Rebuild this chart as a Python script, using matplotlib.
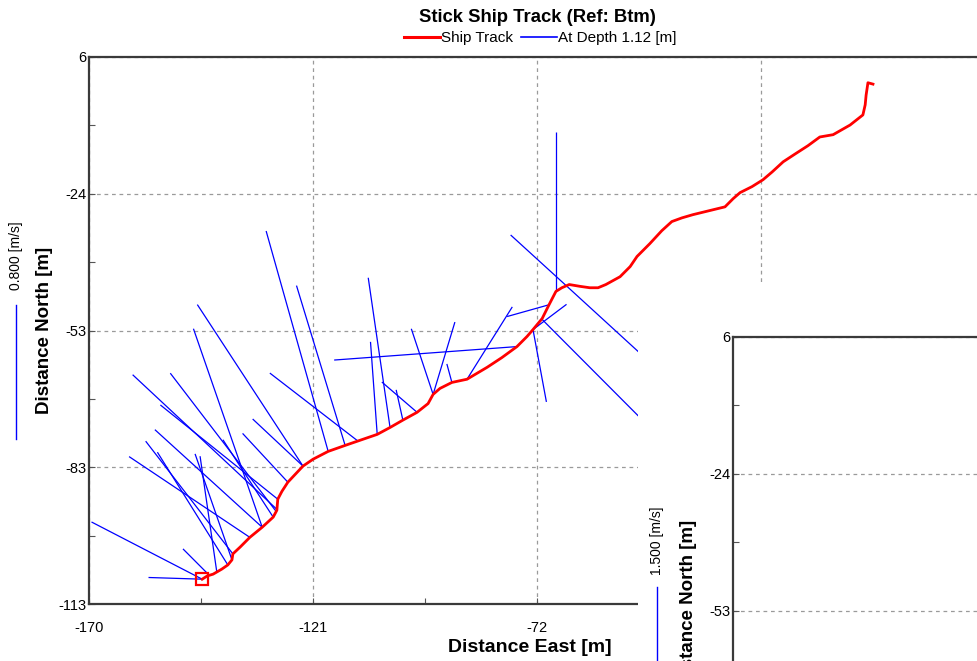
import matplotlib
matplotlib.use("Agg")
import matplotlib.pyplot as plt
import matplotlib.transforms as mtrans
from matplotlib.collections import LineCollection
from matplotlib.lines import Line2D
from matplotlib.patches import Rectangle
import numpy as np

# ship track, metres east/north of the reference point
track_east = [-145.3, -144.2, -142.9, -141.0, -139.7, -138.8, -138.6, -137.0, -134.9, -132.2,
              -129.8, -129.0, -128.8, -127.9, -126.6, -125.0, -123.3, -121.1, -117.8, -114.1,
              -110.9, -107.1, -104.3, -101.5, -98.4, -96.0, -94.9, -93.4, -90.8, -87.5,
              -85.3, -83.1, -79.9, -76.6, -74.4, -73.1, -71.1, -69.6, -68.1, -66.8,
              -65.2, -62.8, -60.7, -58.9, -57.2, -54.1, -51.9, -50.4, -47.6, -45.0,
              -42.8, -40.6, -38.2, -34.5, -31.2, -29.4, -27.9, -25.3, -22.9, -20.9,
              -18.5, -15.9, -13.1, -10.5, -7.6, -3.9, -1.1, -0.6, -0.4, 0.0, 1.1]
track_north = [-107.6, -106.9, -106.5, -105.4, -104.5, -103.4, -102.1, -100.6, -98.5, -96.3,
               -94.1, -92.6, -90.2, -88.5, -86.5, -84.8, -83.0, -81.5, -79.8, -78.5,
               -77.4, -76.1, -74.6, -73.0, -71.3, -69.4, -67.4, -66.1, -64.8, -64.1,
               -62.8, -61.5, -59.4, -57.0, -54.8, -53.3, -50.9, -47.9, -45.0, -44.2,
               -43.5, -43.9, -44.2, -44.2, -43.5, -41.8, -39.6, -37.4, -34.6, -31.8,
               -29.8, -29.0, -28.3, -27.4, -26.6, -24.8, -23.5, -22.2, -20.7, -19.0,
               -16.8, -15.1, -13.3, -11.4, -10.9, -8.8, -6.6, -4.4, -2.3, 0.4, 0.1]

# ensemble positions and current at 1.12 m (m/s)
stick_east = [-145.3, -145.3, -144.0, -138.6, -134.9, -139.7, -138.8, -142.1, -129.8, -129.0,
              -129.2, -132.2, -123.3, -117.8, -114.1, -111.5, -76.6, -104.3, -107.1, -98.4,
              -101.5, -94.9, -94.9, -90.8, -87.5, -69.6, -73.1, -73.1, -68.1, -65.9,
              -65.9, -71.1, -128.8, -132.2, -123.3, -126.6]
stick_north = [-107.6, -107.6, -106.5, -102.1, -98.5, -104.5, -103.4, -106.1, -94.1, -92.4,
               -92.8, -96.3, -83.0, -79.8, -78.5, -77.4, -57.0, -74.6, -76.1, -71.3,
               -73.0, -67.4, -67.4, -64.8, -64.1, -47.9, -53.3, -53.3, -45.0, -43.7,
               -43.7, -51.1, -90.2, -96.3, -83.0, -86.5]
vel_east = [-0.32, -0.66, -0.15, -0.52, -0.72, -0.42, -0.22, -0.10, -0.30, -0.86,
            -0.63, -0.41, -0.63, -0.37, -0.29, -0.52, -1.09, -0.13, -0.04, -0.21,
            -0.04, -0.13, 0.13, -0.03, 0.27, -0.25, 0.20, 0.08, 0.00, -0.33,
            0.57, 0.66, -0.70, -0.64, -0.30, -0.27]
vel_north = [0.01, 0.34, 0.15, 0.67, 0.48, 0.67, 0.63, 0.69, 0.46, 0.80,
             0.82, 1.18, 0.96, 1.31, 0.95, 0.40, -0.08, 0.89, 0.55, 0.18,
             0.18, 0.39, 0.43, 0.11, 0.43, -0.07, 0.15, -0.43, 0.95, 0.30,
             -0.52, -0.66, 0.56, 0.58, 0.28, 0.29]

xticks = [-170, -121.1, -72.2, -23.3]
xtick_labels = ["-170", "-121", "-72", "-23"]
yticks = [6, -23.75, -53.5, -83.25, -113]
ytick_labels = ["6", "-24", "-53", "-83", "-113"]

ref_speed = 0.800        # scale bar, main plot
ref_speed2 = 1.500       # scale bar, second plot
m_per_ms = 36.6          # stick length in metres for 1 m/s

plain = ["Liberation Sans", "DejaVu Sans"]
plt.rcParams["font.family"] = plain

W, H = 978, 661
fig = plt.figure(figsize=(W / 100, H / 100), dpi=100)
fig.patch.set_facecolor("white")

def px_box(left, top, width, height):
    return [left / W, (H - top - height) / H, width / W, height / H]

def style_axes(ax, width_px, label_y=0.5):
    for s in ax.spines.values():
        s.set_color("#3a3a3a")
        s.set_linewidth(1.6)
    ax.set_ylim(-113, 6)
    ax.set_yticks(yticks)
    ax.set_yticklabels(ytick_labels)
    ax.set_yticks([(a + b) / 2 for a, b in zip(yticks[:-1], yticks[1:])], minor=True)
    ax.tick_params(which="both", direction="in", length=4, width=0.8, color="#555555",
                   labelsize=10.5, pad=2)
    ax.yaxis.grid(True, which="major", ls=(0, (3, 3)), color="#9a9a9a", lw=0.9)
    ax.set_ylabel("Distance North [m]", fontsize=13.5, fontweight="bold")
    ax.yaxis.label.set_va("center")
    ax.yaxis.set_label_coords(-44.5 / width_px, label_y)

# ---- main stick plot
ax1 = fig.add_axes(px_box(89, 57, 896, 547))
ax1.set_zorder(0)
style_axes(ax1, 896)
ax1.set_xlim(-170, -170 + 896 / 4.582)
ax1.set_xticks(xticks)
ax1.set_xticklabels(xtick_labels)
ax1.set_xticks([(a + b) / 2 for a, b in zip(xticks[:-1], xticks[1:])], minor=True)
ax1.tick_params(axis="x", which="both", pad=12)
ax1.xaxis.grid(True, which="major", ls=(0, (3, 3)), color="#9a9a9a", lw=0.9)
ax1.set_xlabel("Distance East [m]", fontsize=14, fontweight="bold")
ax1.xaxis.set_label_coords(441 / 896, -43 / 547)
ax1.xaxis.label.set_va("center")

e0 = np.array(stick_east)
n0 = np.array(stick_north)
e1 = e0 + np.array(vel_east) * m_per_ms
n1 = n0 + np.array(vel_north) * m_per_ms
segs = [[(a, b), (c, d)] for a, b, c, d in zip(e0, n0, e1, n1)]
ax1.add_collection(LineCollection(segs, colors="#0000ff", linewidths=0.9, zorder=3))
ax1.plot(track_east, track_north, color="#ff0000", lw=2.0, zorder=4, solid_joinstyle="round")
ax1.plot(track_east[0], track_north[0], marker="s", ms=8, mfc="none", mec="#ff0000",
         mew=1.6, zorder=5)

# speed scale bar left of the y label
tr1 = mtrans.blended_transform_factory(fig.transFigure, ax1.transData)
bar_top = -47.9
fig.add_artist(Line2D([16 / W, 16 / W], [bar_top - ref_speed * m_per_ms, bar_top],
                      transform=tr1, color="#0000ff", lw=1.0))
fig.text(16 / W, bar_top + 3.2, "%.3f [m/s]" % ref_speed, transform=tr1, rotation=90,
         ha="center", va="bottom", fontsize=10)

# second window lying over the lower right corner
fig.add_artist(Rectangle((638 / W, 0), 1, (H - 283) / H, transform=fig.transFigure,
                         facecolor="white", edgecolor="none", zorder=1))

ax2 = fig.add_axes(px_box(733, 337, 400, 547))
ax2.set_zorder(2)
style_axes(ax2, 400, label_y=0.512)
ax2.set_xlim(-170, -170 + 400 / 4.582)
ax2.set_xticks([])

tr2 = mtrans.blended_transform_factory(fig.transFigure, ax2.transData)
bar_top2 = -48.3
fig.add_artist(Line2D([657 / W, 657 / W], [bar_top2 - ref_speed2 * m_per_ms, bar_top2],
                      transform=tr2, color="#0000ff", lw=1.0, zorder=3))
fig.text(657 / W, bar_top2 + 2.6, "%.3f [m/s]" % ref_speed2, transform=tr2, rotation=90,
         ha="center", va="bottom", fontsize=10, zorder=3)

# title and legend
fig.text(537 / W, 1 - 17 / H, "Stick Ship Track (Ref: Btm)", ha="center", va="center",
         fontsize=13.3, fontweight="bold")
handles = [Line2D([], [], color="#ff0000", lw=2.2), Line2D([], [], color="#0000ff", lw=1.2)]
fig.legend(handles, ["Ship Track", "At Depth 1.12 [m]"], loc="center",
           bbox_to_anchor=(540 / W, 1 - 38 / H), ncol=2, frameon=False, handlelength=2.4,
           handletextpad=0.05, columnspacing=0.5, borderpad=0, prop={"size": 11})

fig.savefig("out.png", dpi=100)
